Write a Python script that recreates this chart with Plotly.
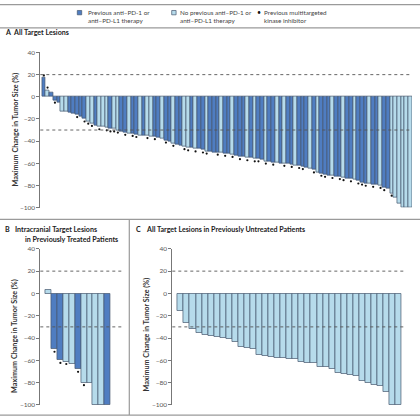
import plotly.graph_objects as go

# Panel A: all target lesions (sorted waterfall)
change_a = [17, 6, 4, -3, -5, -13, -13, -14, -15, -16,
            -18, -20, -22, -24, -26, -27, -27, -28, -29, -29,
            -30, -31, -32, -33, -33, -34, -35, -35, -35, -36,
            -36, -37, -38, -39, -40, -42, -43, -44, -45, -46,
            -46, -47, -47, -48, -49, -49, -50, -50, -50, -51,
            -51, -52, -53, -54, -54, -55, -55, -56, -56, -57,
            -58, -58, -59, -59, -60, -60, -60, -61, -62, -62,
            -63, -64, -65, -66, -68, -69, -70, -71, -71, -72,
            -72, -73, -74, -74, -75, -76, -77, -78, -78, -79,
            -79, -80, -82, -83, -87, -91, -96, -100, -100, -100]
prior_a = ("DLDDDLLDDD" "DDLLDLLLDL" "LDDLDDLDLL" "DDLDDLDDLL" "DLDDLDDDLD"
           "DLDDDLDLDD" "LDDLDLDDLD" "DDLDLDDDLD" "DLDDLDDDLD" "DLDDLLLLLL")
mki_a = [1, 1, 0, 1, 0, 0, 0, 0, 0, 1,
         0, 1, 1, 1, 0, 1, 0, 1, 1, 1,
         1, 0, 1, 0, 1, 1, 0, 0, 1, 0,
         1, 0, 0, 1, 0, 1, 0, 0, 1, 1,
         0, 1, 0, 1, 1, 0, 0, 1, 0, 1,
         0, 1, 0, 1, 0, 1, 0, 1, 1, 0,
         1, 0, 1, 0, 0, 1, 0, 1, 0, 1,
         1, 0, 0, 1, 0, 1, 1, 0, 1, 0,
         1, 1, 0, 1, 0, 1, 1, 1, 0, 1,
         0, 1, 1, 0, 1, 0, 0, 0, 1, 1]

# Panel B: intracranial lesions, previously treated
change_b = [3, -50, -60, -61, -63, -68, -80, -80, -100, -100, -100]
prior_b = "LDDLLDLLLLD"
mki_b = [0, 1, 1, 1, 0, 1, 1, 0, 1, 1, 1]

# Panel C: previously untreated
change_c = [-16, -26, -32, -35, -37, -38, -39, -40, -41, -43,
            -48, -49, -50, -55, -56, -57, -58, -58, -59, -59,
            -61, -62, -62, -66, -66, -68, -71, -72, -73, -74,
            -78, -80, -82, -83, -88, -100, -100]

yticks = [-100, -80, -60, -40, -20, 0, 20, 40]

DARK = "#4f7dc1"
LIGHT = "#b6dbeb"
EDGE = "#46586e"
FONT = "Lato"


def px(x):
    return x / 420


def py(y):
    return 1 - y / 420


fig = go.Figure()


def add_panel(vals, prior, mki, xa, ya):
    idx = list(range(len(vals)))
    cols = [DARK if p == "D" else LIGHT for p in prior]
    fig.add_trace(go.Bar(x=idx, y=vals, marker=dict(color=cols, line=dict(color=EDGE, width=0.7)),
                         width=1, xaxis=xa, yaxis=ya, cliponaxis=False, showlegend=False))
    if mki is not None:
        dx = [i for i in idx if mki[i]]
        dy = [vals[i] + (2.3 if vals[i] > 0 else -2.3) for i in idx if mki[i]]
        fig.add_trace(go.Scatter(x=dx, y=dy, mode="markers", marker=dict(color="#111", size=2.2),
                                 xaxis=xa, yaxis=ya, cliponaxis=False, showlegend=False))


add_panel(change_a, prior_a, mki_a, "x", "y")
add_panel(change_b, prior_b, mki_b, "x2", "y2")
add_panel(change_c, "L" * len(change_c), None, "x3", "y3")

yax = dict(range=[-100, 40], tickvals=yticks, showline=True, linecolor="#777", linewidth=1,
           ticks="outside", ticklen=3, tickcolor="#777", tickfont=dict(size=6.5, color="#555", family=FONT),
           showgrid=False, zeroline=False, fixedrange=True)
xax = dict(visible=False, fixedrange=True)

fig.update_layout(
    width=420, height=420, margin=dict(l=0, r=0, t=0, b=0),
    paper_bgcolor="white", plot_bgcolor="white", bargap=0,
    xaxis=dict(xax, domain=[px(40.3), px(412)], range=[-0.96, 99.5]),
    yaxis=dict(yax, domain=[py(207), py(49.3)], anchor="x"),
    xaxis2=dict(xax, domain=[px(40.3), px(124)], range=[-1.41, 12.8], anchor="y2"),
    yaxis2=dict(yax, domain=[py(407.7), py(249)], anchor="x2"),
    xaxis3=dict(xax, domain=[px(172.3), px(405)], range=[-1.39, 37.07], anchor="y3"),
    yaxis3=dict(yax, domain=[py(407.7), py(249)], anchor="x3"),
)

# reference lines at +20 and -30
for xa, ya in [("x", "y"), ("x2", "y2"), ("x3", "y3")]:
    for lvl in [20, -30]:
        fig.add_shape(type="line", xref=xa + " domain", yref=ya, x0=0, x1=1, y0=lvl, y1=lvl,
                      line=dict(color="#555", width=0.9, dash="dot"))

# frame lines
frame = dict(type="line", xref="paper", yref="paper", line=dict(color="#9a9a9a", width=1.2))
fig.add_shape(frame, x0=0, x1=1, y0=py(0.6), y1=py(0.6))
fig.add_shape(frame, x0=0, x1=1, y0=py(24.3), y1=py(24.3))
fig.add_shape(frame, x0=0, x1=1, y0=py(219), y1=py(219))
fig.add_shape(frame, x0=0, x1=1, y0=py(418), y1=py(418))
fig.add_shape(frame, x0=px(129.3), x1=px(129.3), y0=py(219), y1=py(418))

# legend
for x0, col in [(77.3, DARK), (171.7, LIGHT)]:
    fig.add_shape(type="rect", xref="paper", yref="paper", x0=px(x0), x1=px(x0 + 4.4),
                  y0=py(11), y1=py(6.6), fillcolor=col, line=dict(color=EDGE, width=0.7))
leg_font = dict(size=6.3, color="#444", family=FONT)
legend_items = [(85.5, "Previous anti–PD-1 or<br>anti–PD-L1 therapy"),
                (177.5, "No previous anti–PD-1 or<br>anti–PD-L1 therapy"),
                (261.5, "Previous multitargeted<br>kinase inhibitor")]
for x0, txt in legend_items:
    fig.add_annotation(x=px(x0), y=py(12.5), xref="paper", yref="paper", text=txt, showarrow=False,
                       xanchor="left", yanchor="middle", align="left", font=leg_font)
fig.add_annotation(x=px(259.2), y=py(8.6), xref="paper", yref="paper", text="•", showarrow=False,
                   xanchor="center", yanchor="middle", font=dict(size=7, color="#111", family=FONT))

# panel titles
title_font = dict(size=7.1, color="#222", family=FONT)
titles = [(3, 28.5, "<b>A</b>"), (11, 28.5, "<b>All Target Lesions</b>"),
          (3, 229, "<b>B</b>"), (12.5, 229, "<b>Intracranial Target Lesions</b>"),
          (22.5, 239.5, "<b>in Previously Treated Patients</b>"),
          (133.5, 229, "<b>C</b>"), (143.5, 229, "<b>All Target Lesions in Previously Untreated Patients</b>")]
for x0, y0, txt in titles:
    fig.add_annotation(x=px(x0), y=py(y0), xref="paper", yref="paper", text=txt, showarrow=False,
                       xanchor="left", yanchor="middle", font=title_font)

# y axis titles
for x0, y0 in [(15, 127.5), (15, 337.5), (146.5, 336.5)]:
    fig.add_annotation(x=px(x0), y=py(y0), xref="paper", yref="paper",
                       text="<b>Maximum Change in Tumor Size (%)</b>", showarrow=False, textangle=-90,
                       xanchor="center", yanchor="middle", font=dict(size=7.2, color="#333", family=FONT))

# page body has a default 8px margin; remove it so the figure sits at the window origin
fig.write_html("out.html", config={"displayModeBar": False},
               post_script="document.body.style.margin='0px';")
